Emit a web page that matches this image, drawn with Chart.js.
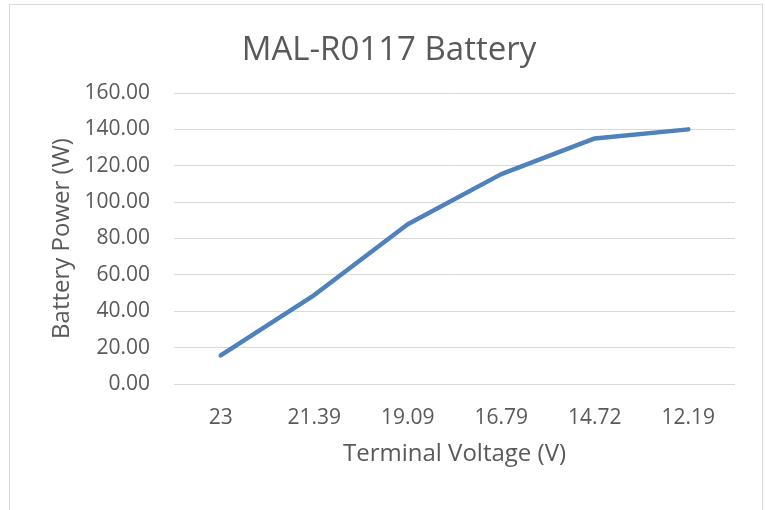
<!DOCTYPE html>
<html><head><meta charset="utf-8">
<script src="https://cdn.jsdelivr.net/npm/chart.js@4"></script>
<style>html,body{margin:0;padding:0;background:#fff}</style>
</head><body>
<canvas id="c" width="765" height="510" style="display:block;width:765px;height:510px"></canvas>
<script>
const categories = ['23', '21.39', '19.09', '16.79', '14.72', '12.19'];
const batteryPower = [15.7, 48.9, 87.8, 115.4, 135.0, 140.0];
const yMin = 0, yMax = 160, yStep = 20;
const chartTitle = 'MAL-R0117 Battery';
const xTitle = 'Terminal Voltage (V)';
const yTitle = 'Battery Power (W)';

const TEXT = '#595959';
const GRID = '#d9d9d9';
const FONT = "'Open Sans', 'Liberation Sans', sans-serif";

const frame = {
  id: 'frame',
  beforeDraw(chart) {
    const ctx = chart.ctx;
    ctx.save();
    ctx.fillStyle = '#fff';
    ctx.fillRect(0, 0, chart.width, chart.height);
    ctx.strokeStyle = GRID;
    ctx.lineWidth = 1;
    ctx.strokeRect(9.5, 4.5, 753, 540);
    ctx.restore();
  }
};

new Chart(document.getElementById('c'), {
  type: 'line',
  data: {
    labels: categories,
    datasets: [{
      data: batteryPower,
      borderColor: '#4f81bd',
      borderWidth: 4.5,
      borderCapStyle: 'round',
      borderJoinStyle: 'round',
      pointRadius: 0,
      pointHoverRadius: 0,
      tension: 0,
      fill: false,
      yAxisID: 'y'
    }]
  },
  options: {
    responsive: false,
    animation: false,
    devicePixelRatio: 1,
    layout: { padding: { left: 13, right: 0, top: 0, bottom: 0 } },
    plugins: {
      legend: { display: false },
      tooltip: { enabled: false },
      title: {
        display: true,
        text: chartTitle,
        color: TEXT,
        font: { family: FONT, size: 33, weight: 'normal', lineHeight: 1.2 },
        padding: { top: 30.4, bottom: 23 }
      }
    },
    scales: {
      x: {
        type: 'category',
        offset: true,
        grid: { display: false },
        border: { display: false },
        ticks: { color: TEXT, font: { family: FONT, size: 21 }, padding: 13, maxRotation: 0 },
        title: {
          display: true, text: xTitle, color: TEXT,
          font: { family: FONT, size: 24, lineHeight: 1.2 },
          padding: { top: 0, bottom: 41.6 }
        },
        afterFit(s) { s.height = 126; }
      },
      y: {
        type: 'linear',
        position: 'left',
        min: yMin, max: yMax,
        grid: { color: GRID, lineWidth: 1, drawTicks: false },
        border: { display: false },
        ticks: {
          stepSize: yStep, color: TEXT, padding: 24,
          font: { family: FONT, size: 21 },
          callback: v => Number(v).toFixed(2)
        },
        title: {
          display: true, text: yTitle, color: TEXT,
          font: { family: FONT, size: 24, lineHeight: 1.2 },
          padding: { top: 34.6, bottom: 0 }
        },
        afterFit(s) { s.width = 161; }
      },
      yR: {
        type: 'linear',
        position: 'right',
        display: true,
        grid: { display: false },
        border: { display: false },
        ticks: { display: false },
        afterFit(s) { s.width = 30; }
      }
    }
  },
  plugins: [frame]
});
</script>
</body></html>
